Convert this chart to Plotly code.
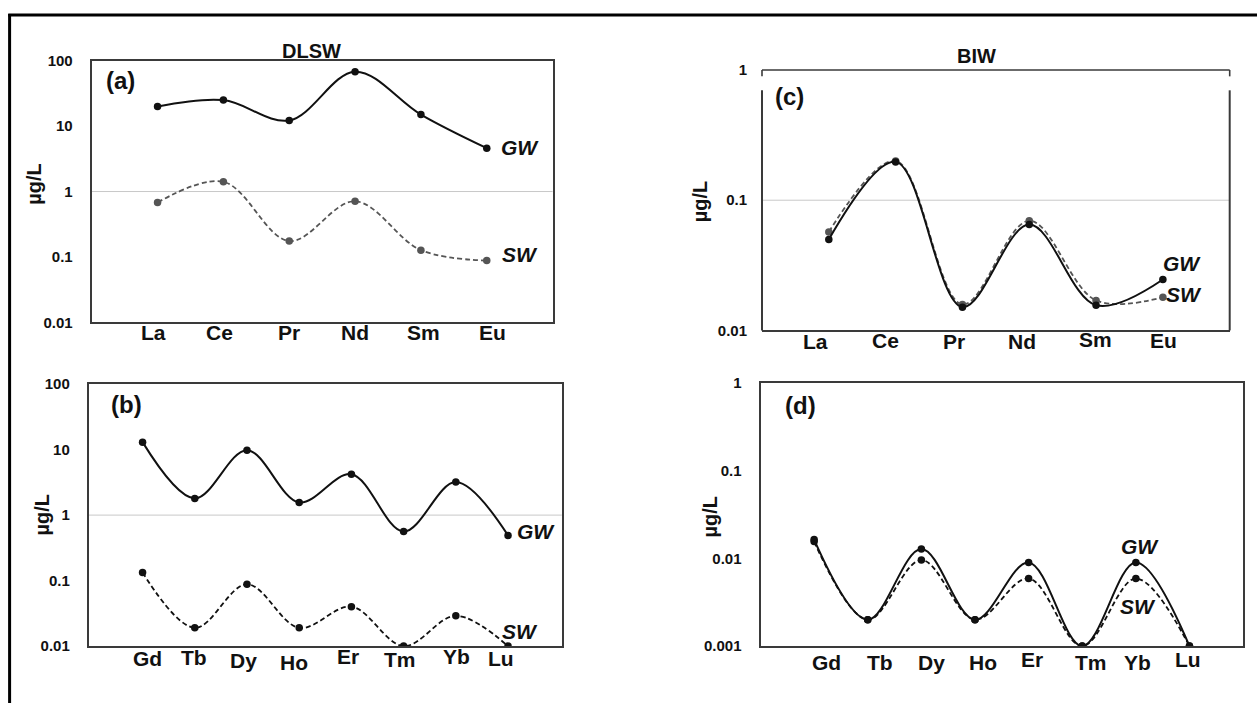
import plotly.graph_objects as go

# Light rare earth elements (panels a, c) and heavy ones (panels b, d)
lree = ["La", "Ce", "Pr", "Nd", "Sm", "Eu"]
hree = ["Gd", "Tb", "Dy", "Ho", "Er", "Tm", "Yb", "Lu"]

# DLSW concentrations, µg/L
dlsw_gw_lree = [20, 25, 12.2, 68, 15, 4.6]
dlsw_sw_lree = [0.68, 1.41, 0.175, 0.71, 0.127, 0.088]
dlsw_gw_hree = [13, 1.8, 9.8, 1.56, 4.2, 0.56, 3.2, 0.49]
dlsw_sw_hree = [0.133, 0.019, 0.088, 0.019, 0.04, 0.01, 0.029, 0.01]

# BIW concentrations, µg/L
biw_gw_lree = [0.050, 0.197, 0.0151, 0.065, 0.0156, 0.0246]
biw_sw_lree = [0.057, 0.2, 0.0158, 0.0695, 0.017, 0.018]
biw_gw_hree = [0.0164, 0.002, 0.0128, 0.002, 0.009, 0.001, 0.009, 0.001]
biw_sw_hree = [0.0156, 0.002, 0.0096, 0.002, 0.0059, 0.001, 0.0059, 0.001]

# y-axis tick sets
ticks_a = [0.01, 0.1, 1, 10, 100]
ticks_c = [0.01, 0.1, 1]
ticks_d = [0.001, 0.01, 0.1, 1]

W, H = 1257, 711
FONT = "Liberation Sans"
FRAME = "#3a3a3a"
INK = "#111111"


def px(x):
    return x / W


def py(y):
    return 1 - y / H


fig = go.Figure()

panels = {
    # key: (xaxis id, yaxis id, categories, gw, sw, sw colour, x-domain px, y-domain px, xrange, yrange, ticks)
    "a": ("x", "y", lree, dlsw_gw_lree, dlsw_sw_lree, "#555555", (91.7, 552.6), (53, 321), [-1, 6], [-2, 2], ticks_a),
    "b": ("x2", "y2", hree, dlsw_gw_hree, dlsw_sw_hree, INK, (88.8, 561.8), (384.3, 652.7), [-1.03, 8.03], [-2, 2], ticks_a),
    "c": ("x3", "y3", lree, biw_gw_lree, biw_sw_lree, "#555555", (762, 1229.7), (62.5, 329.3), [-1, 6], [-2, 0], ticks_c),
    "d": ("x4", "y4", hree, biw_gw_hree, biw_sw_hree, INK, (760.5, 1243.1), (383.3, 652.7), [-1, 8], [-3, 0], ticks_d),
}

layout_axes = {}
for key, (xa, ya, cats, gw, sw, swc, xd, yd, xr, yr, tv) in panels.items():
    fig.add_trace(go.Scatter(
        x=cats, y=sw, xaxis=xa, yaxis=ya, mode="lines+markers",
        line=dict(shape="spline", smoothing=1.0, color=swc, width=1.8, dash="5px,3px"),
        marker=dict(size=7.5, color=swc), showlegend=False, name="SW"))
    fig.add_trace(go.Scatter(
        x=cats, y=gw, xaxis=xa, yaxis=ya, mode="lines+markers",
        line=dict(shape="spline", smoothing=1.0, color=INK, width=2),
        marker=dict(size=7.5, color=INK), showlegend=False, name="GW"))

    xname = "xaxis" + xa[1:]
    yname = "yaxis" + ya[1:]
    boxed = key != "c"
    layout_axes[xname] = dict(
        domain=[px(xd[0]), px(xd[1])], anchor=ya, type="category",
        categoryorder="array", categoryarray=cats, range=xr,
        showticklabels=False, showgrid=False, zeroline=False,
        showline=True, mirror=boxed, linecolor=FRAME, linewidth=2)
    layout_axes[yname] = dict(
        domain=[py(yd[1]), py(yd[0])], anchor=xa, type="log", range=yr,
        tickvals=tv, ticktext=[f"{v:g}" for v in tv], ticks="",
        ticklabelstandoff=14,
        tickfont=dict(family=FONT, size=15, color=INK, weight="bold"),
        showgrid=False, zeroline=False,
        showline=boxed, mirror=boxed, linecolor=FRAME, linewidth=2)

fig.update_layout(**layout_axes)

shapes = []
# light reference gridlines
for xa, ya, val in [("x", "y", 1), ("x2", "y2", 1), ("x3", "y3", 0.1)]:
    shapes.append(dict(type="line", xref=f"{xa} domain", yref=ya, x0=0, x1=1,
                       y0=val, y1=val, line=dict(color="#c8c8c8", width=1), layer="below"))

# panel (c) frame: top rule with end ticks, side rules starting lower
cy_top = 62.5
cy_bot = 329.3
side_start = (cy_bot - 83.3) / (cy_bot - cy_top)
tick_end = (cy_bot - 69) / (cy_bot - cy_top)
shapes += [
    dict(type="line", xref="x3 domain", yref="y3 domain", x0=0, x1=1, y0=1, y1=1,
         line=dict(color=FRAME, width=1.6)),
    dict(type="line", xref="x3 domain", yref="y3 domain", x0=0, x1=0, y0=1, y1=tick_end,
         line=dict(color=FRAME, width=1.6)),
    dict(type="line", xref="x3 domain", yref="y3 domain", x0=1, x1=1, y0=1, y1=tick_end,
         line=dict(color=FRAME, width=1.6)),
    dict(type="line", xref="x3 domain", yref="y3 domain", x0=0, x1=0, y0=0, y1=side_start,
         line=dict(color=FRAME, width=2)),
    dict(type="line", xref="x3 domain", yref="y3 domain", x0=1, x1=1, y0=0, y1=side_start,
         line=dict(color=FRAME, width=2)),
]
# outer figure frame (left and top edges)
shapes += [
    dict(type="line", xref="paper", yref="paper", x0=px(9.6), x1=px(9.6), y0=0, y1=py(5),
         line=dict(color="black", width=3)),
    dict(type="line", xref="paper", yref="paper", x0=px(8.2), x1=1, y0=py(6.2), y1=py(6.2),
         line=dict(color="black", width=3)),
]

ann = []


def text(x, y, s, size, italic=False, angle=0, xanchor="center"):
    ann.append(dict(x=px(x), y=py(y), xref="paper", yref="paper", text=s, showarrow=False,
                    textangle=angle, xanchor=xanchor, yanchor="middle",
                    font=dict(family=FONT, size=size, color=INK, weight="bold",
                              style="italic" if italic else "normal")))


# titles
text(311, 43, "DLSW", 20)
text(976, 48, "BIW", 20)
# panel tags
text(120, 73, "(a)", 24)
text(126, 405, "(b)", 24)
text(790, 90, "(c)", 24)
text(800, 406, "(d)", 24)
# y-axis titles
text(34, 179, "µg/L", 20, angle=-90)
text(42, 518, "µg/L", 20, angle=-90)
text(700, 197, "µg/L", 20, angle=-90)
text(710, 520, "µg/L", 20, angle=-90)
# series tags
for x, y, s in [(520, 142, "GW"), (520, 252, "SW"), (536, 535, "GW"), (520, 638, "SW"),
                (1182, 261, "GW"), (1184, 293, "SW"), (1140, 551, "GW"), (1138, 612, "SW")]:
    text(x, y, s, 21, italic=True)

# category labels under each panel (pixel nudges and baseline heights)
label_style = {
    "a": ([-4, -4, 0, 0, 3, 6], [331.5] * 6),
    "b": ([5, -1, -3, -5, -3, -4, 1, -7], [665, 664, 667, 669, 663, 666, 663, 665]),
    "c": ([-13, -10, -8, -7, -1, 1], [341, 340, 341, 341, 339, 340]),
    "d": ([12, 12, 10, 8, 3, 9, 2, -1], [669, 669, 670, 669, 666, 669, 669, 666]),
}
for key, (xa, ya, cats, *_rest) in panels.items():
    shifts, ys = label_style[key]
    for c, dx, yy in zip(cats, shifts, ys):
        ann.append(dict(x=c, xref=xa, y=py(yy), yref="paper", text=c, showarrow=False,
                        xshift=dx, xanchor="center", yanchor="middle",
                        font=dict(family=FONT, size=21, color=INK, weight="bold")))

fig.update_layout(
    width=W, height=H, margin=dict(l=0, r=0, t=0, b=0),
    paper_bgcolor="white", plot_bgcolor="white",
    shapes=shapes, annotations=ann, showlegend=False,
)

fig.write_html("out.html")
